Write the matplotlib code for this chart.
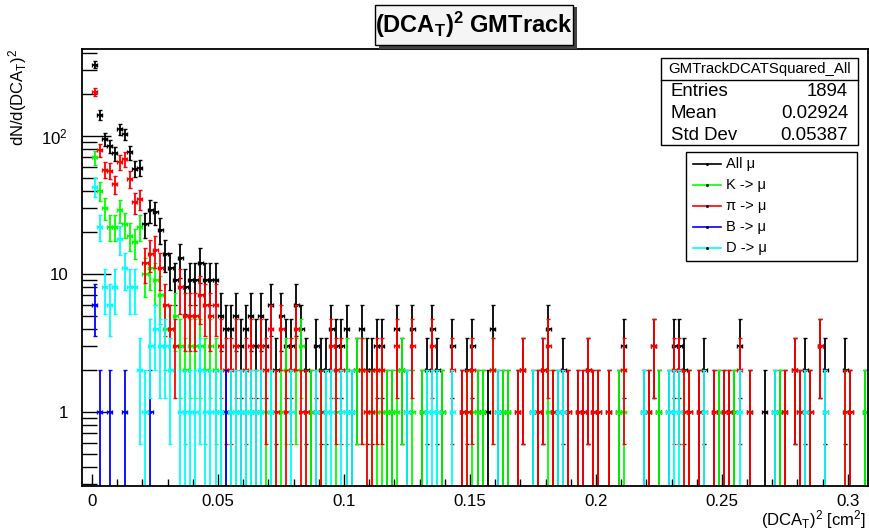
import numpy as np
import matplotlib
matplotlib.use("Agg")
import matplotlib.pyplot as plt
from matplotlib.patches import Rectangle
from matplotlib.lines import Line2D

plt.rcParams["font.family"] = ["Liberation Sans", "DejaVu Sans"]
plt.rcParams["mathtext.fontset"] = "custom"
plt.rcParams["mathtext.rm"] = "Liberation Sans"
plt.rcParams["mathtext.it"] = "Liberation Sans:italic"
plt.rcParams["mathtext.bf"] = "Liberation Sans:bold"

# histogram: 0.002 wide bins from 0 to 0.308 (axis starts at -0.004)
bin_width = 0.002
n_bins = 154

all_mu = [329, 142, 95, 85, 75, 112, 103, 76, 58, 59, 23, 29, 28, 21,
          14, 11, 9, 13, 8, 9, 9, 12, 9, 9, 9, 5,
          4, 4, 5, 3, 4, 5, 3, 5, 3, 6,
          2, 5, 3, 3, 6, 4, 2, 1, 3, 2,
          2, 4, 3, 3, 4, 1, 2, 4, 2, 2,
          3, 3, 1, 1, 4, 2, 1, 4, 0, 1,
          2, 4, 2, 1, 0, 3, 0, 1, 2, 3,
          1, 1, 1, 4, 1, 1, 1, 0, 1, 2,
          0, 1, 1, 2, 4, 1, 1, 2, 1, 0,
          1, 1, 2, 1, 1, 0, 1, 0, 1, 3,
          0, 0, 0, 1, 1, 3, 1, 0, 1, 3,
          3, 2, 1, 0, 1, 2, 0, 1, 1, 1,
          1, 1, 3, 0, 1, 0, 0, 1, 0, 1,
          1, 1, 0, 2, 1, 2, 1, 0, 3, 2,
          0, 0, 0, 2, 1, 0, 0, 1]
k_mu = [70, 40, 30, 22, 22, 29, 23, 19, 17, 22, 10, 11, 9, 7,
        4, 4, 5, 3, 2, 3, 3, 3, 2, 3, 2, 1,
        1, 1, 1, 1, 1, 1, 1, 1, 1, 1,
        1, 1, 2, 0, 2, 3, 1, 1, 1, 1,
        1, 0, 1, 0, 2, 0, 2, 2, 1, 1,
        1, 1, 1, 1, 1, 2, 0, 1, 0, 1,
        1, 0, 1, 1, 0, 0, 0, 0, 1, 1,
        1, 1, 0, 2, 0, 1, 1, 0, 0, 0,
        0, 0, 0, 0, 1, 0, 0, 0, 0, 0,
        0, 0, 0, 0, 0, 0, 0, 0, 1, 1,
        0, 0, 0, 0, 0, 0, 1, 0, 0, 0,
        0, 1, 0, 0, 0, 0, 0, 0, 1, 0,
        0, 1, 0, 0, 0, 0, 0, 0, 0, 0,
        1, 0, 0, 0, 0, 0, 0, 0, 0, 0,
        0, 0, 0, 1, 0, 0, 0, 1]
pi_mu = [210, 79, 57, 56, 45, 65, 68, 49, 33, 35, 12, 14, 15, 11,
         6, 4, 3, 8, 5, 5, 5, 7, 6, 5, 6, 3,
         2, 2, 3, 1, 2, 3, 1, 3, 2, 4,
         1, 4, 1, 2, 4, 1, 1, 0, 1, 1,
         0, 3, 2, 2, 1, 0, 0, 2, 1, 1,
         2, 2, 0, 0, 3, 0, 0, 3, 0, 0,
         0, 3, 0, 0, 0, 2, 0, 1, 1, 2,
         0, 0, 0, 2, 0, 0, 0, 0, 1, 2,
         0, 0, 1, 2, 3, 1, 0, 1, 1, 0,
         1, 1, 2, 1, 1, 0, 1, 0, 0, 2,
         0, 0, 0, 0, 1, 3, 0, 0, 0, 2,
         2, 1, 1, 0, 1, 1, 0, 1, 0, 1,
         1, 0, 2, 0, 1, 0, 0, 0, 0, 0,
         0, 1, 0, 2, 1, 1, 1, 0, 3, 1,
         0, 0, 0, 1, 1, 0, 0, 0]
b_mu = [6, 1, 0, 1, 0, 0, 1, 0, 0, 0, 0, 1, 0, 0,
        0, 0, 0, 0, 0, 0, 0, 0, 0, 0, 0, 0,
        1]
d_mu = [43, 22, 8, 6, 8, 18, 11, 8, 8, 2, 1, 3, 4, 3,
        3, 2, 0, 1, 1, 1, 1, 2, 1, 1, 1, 1,
        0, 1, 1, 1, 1, 1, 1, 1, 0, 1,
        0, 0, 0, 1, 0, 0, 0, 0, 1, 0,
        1, 1, 0, 1, 1, 1, 0, 0, 0, 0,
        0, 0, 0, 0, 0, 0, 1, 0, 0, 0,
        1, 1, 1, 0, 0, 1, 0, 0, 0, 0,
        0, 0, 0, 0, 1, 0, 0, 0, 0, 0,
        0, 1, 0, 0, 0, 0, 1, 1, 0, 0,
        0, 0, 0, 0, 0, 0, 0, 0, 0, 0,
        0, 0, 0, 1, 0, 0, 0, 0, 1, 1,
        1, 0, 0, 0, 0, 1, 0, 0, 0, 0,
        0, 0, 1, 0, 0, 0, 0, 0, 0, 1,
        0, 0, 0, 0, 0, 1, 0, 0, 0, 1]

series = [
    ("All μ", all_mu, "black"),
    ("K -> μ", k_mu, "#00ff00"),
    ("π -> μ", pi_mu, "#ff0000"),
    ("B -> μ", b_mu, "#0000ff"),
    ("D -> μ", d_mu, "#00ffff"),
]

W, H = 869, 531
fig = plt.figure(figsize=(W / 100, H / 100), dpi=100)
ax = fig.add_axes([82 / W, 1 - 486 / H, 786 / W, 437 / H])

for label, vals, col in series:
    n = np.zeros(n_bins)
    n[:len(vals)] = vals
    x = (np.arange(n_bins) + 0.5) * bin_width
    m = n > 0
    x, n = x[m], n[m]
    err = np.sqrt(n)
    lo = np.minimum(err, n - 1e-3)
    ax.errorbar(x, n, xerr=bin_width / 2, yerr=[lo, err], fmt="none",
                ecolor=col, elinewidth=1.3, capsize=1.2, capthick=1.0)
    ax.plot(x, n, ls="none", marker="s", ms=1.2, color=col)

ax.set_yscale("log")
ax.set_xlim(-0.004, 0.308)
ax.set_ylim(0.291, 427)
ax.set_xticks([0, 0.05, 0.1, 0.15, 0.2, 0.25, 0.3])
ax.set_xticklabels(["0", "0.05", "0.1", "0.15", "0.2", "0.25", "0.3"])
ax.set_xticks(np.arange(0.0, 0.31, 0.01), minor=True)
ax.set_yticks([1, 10, 100])
ax.set_yticklabels(["1", "10", "$10^2$"])
ax.tick_params(axis="both", which="both", direction="in", labelsize=12.2,
               colors="black", width=1)
ax.tick_params(axis="y", which="major", length=21, pad=10)
ax.tick_params(axis="y", which="minor", length=11)
ax.tick_params(axis="x", which="major", length=9, pad=6)
ax.tick_params(axis="x", which="minor", length=5)
ax.tick_params(top=False, right=False)
for s in ax.spines.values():
    s.set_linewidth(1.3)

fig.text(866 / W, 1 - 520 / H, r"(DCA$_{\mathrm{T}}$)$^2$ [cm$^2$]", ha="right",
         va="center", fontsize=12)
fig.text(18 / W, 1 - 49 / H, r"dN/d(DCA$_{\mathrm{T}}$)$^2$", ha="center",
         va="top", rotation=90, fontsize=12)

# title box with shadow
fig.add_artist(Rectangle((379 / W, 1 - 49 / H), 198 / W, 42 / H,
                         transform=fig.transFigure, fc="#444444", ec="none"))
fig.add_artist(Rectangle((375 / W, 1 - 45 / H), 198 / W, 40 / H,
                         transform=fig.transFigure, fc="#f5f5f5", ec="black", lw=1))
fig.text(474 / W, 1 - 25 / H, r"(DCA$_{\mathbf{T}}$)$^{\mathbf{2}}$ GMTrack",
         ha="center", va="center", fontsize=17, fontweight="bold")

# stats box
fig.add_artist(Rectangle((661 / W, 1 - 145 / H), 197 / W, 87 / H,
                         transform=fig.transFigure, fc="white", ec="black", lw=1))
fig.add_artist(Line2D([661 / W, 858 / W], [1 - 80 / H, 1 - 80 / H],
                      transform=fig.transFigure, color="black", lw=1))
fig.text(759.5 / W, 1 - 69 / H, "GMTrackDCATSquared_All", ha="center",
         va="center", fontsize=10.8)
for i, (k, v) in enumerate([("Entries", "1894"), ("Mean", "0.02924"),
                            ("Std Dev", "0.05387")]):
    yy = 1 - (92 + 21.5 * i) / H
    fig.text(671 / W, yy, k, ha="left", va="center", fontsize=13.4)
    fig.text(848 / W, yy, v, ha="right", va="center", fontsize=13.4)

# legend box
fig.add_artist(Rectangle((686 / W, 1 - 261 / H), 171 / W, 109 / H,
                         transform=fig.transFigure, fc="white", ec="black", lw=1))
for i, (label, vals, col) in enumerate(series):
    yy = 1 - (164 + 21 * i) / H
    fig.add_artist(Line2D([693 / W, 721 / W], [yy, yy], transform=fig.transFigure,
                          color=col, lw=1.2))
    fig.add_artist(Line2D([707 / W], [yy], transform=fig.transFigure,
                          color="black", marker="s", ms=1.0, ls="none"))
    fig.text(726 / W, yy, label, ha="left", va="center", fontsize=10.5)

fig.savefig("out.png", dpi=100)
